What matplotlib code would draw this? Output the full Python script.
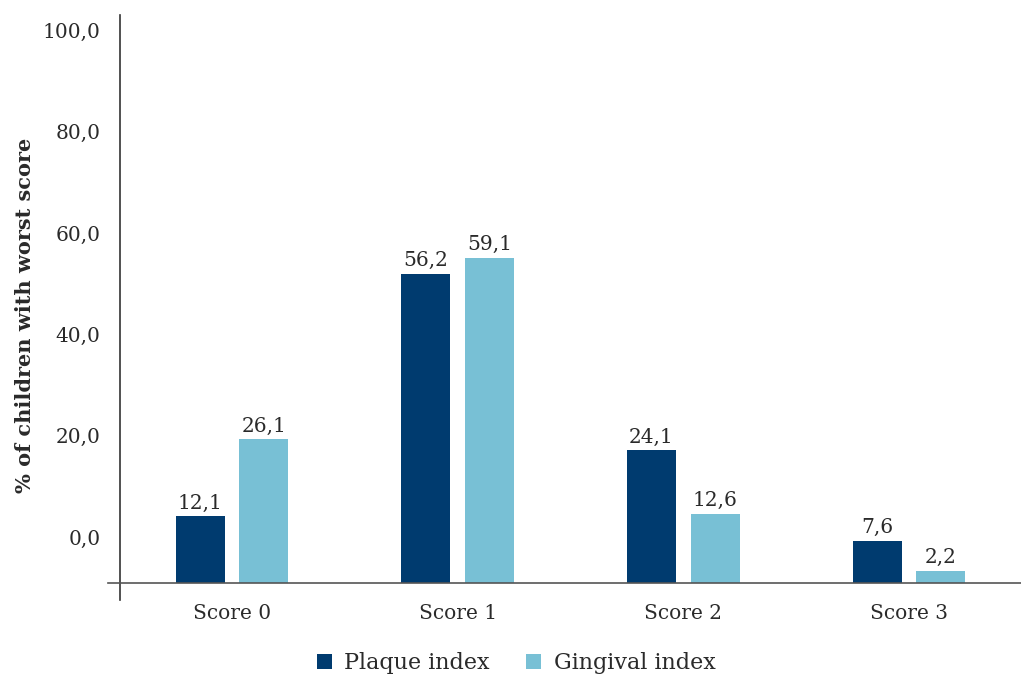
import numpy as np
import matplotlib.pyplot as plt

plt.rcParams['font.family'] = ['DejaVu Serif']

# Data
categories = ['Score 0', 'Score 1', 'Score 2', 'Score 3']
plaque = [12.1, 56.2, 24.1, 7.6]
gingival = [26.1, 59.1, 12.6, 2.2]
tick_values = [0, 20, 40, 60, 80, 100]

dark = '#003b6f'
light = '#78c0d5'
txt = '#2a2a2a'
fs = 14.5

fig = plt.figure(figsize=(10.21, 6.77), dpi=100)
ax = fig.add_axes([0.1175, 0.1137, 0.8834, 0.864])

x = np.arange(len(categories))
w = 0.217
off = 0.141

b1 = ax.bar(x - off, plaque, w, color=dark, label='Plaque index', zorder=2)
b2 = ax.bar(x + off, gingival, w, color=light, label='Gingival index', zorder=2)

for bars, vals in ((b1, plaque), (b2, gingival)):
    for bar, v in zip(bars, vals):
        ax.text(bar.get_x() + bar.get_width() / 2, v + 0.7,
                '{:.1f}'.format(v).replace('.', ','),
                ha='center', va='bottom', fontsize=fs, color=txt)

ax.set_xlim(-0.496, 3.5)
ax.set_ylim(-3.1, 103.3)

# y tick labels in the original sit on their own scale (offset from the bars)
tick_pos = [8.36 + v * 0.9216 for v in tick_values]
ax.set_yticks(tick_pos)
ax.set_yticklabels(['{:.1f}'.format(v).replace('.', ',') for v in tick_values],
                   fontsize=fs, color=txt)
ax.tick_params(axis='y', length=0, pad=14)

ax.set_xticks(x)
ax.set_xticklabels(categories, fontsize=fs, color=txt)
ax.tick_params(axis='x', length=0, pad=3)

for s in ['top', 'right', 'bottom']:
    ax.spines[s].set_visible(False)
ax.spines['left'].set_color('#333333')
ax.spines['left'].set_linewidth(1.2)

ax.axhline(0, xmin=-0.013, xmax=1, color='#555555', lw=1.2, clip_on=False, zorder=3)

fig.text(25 / 1021, 1 - 315 / 677, '% of children with worst score', rotation=90,
         ha='center', va='center', fontsize=15, fontweight='bold', color=txt)

fig.legend(handles=[b1, b2], loc='center', bbox_to_anchor=(516 / 1021, 1 - 663 / 677),
           ncol=2, frameon=False, fontsize=16, handlelength=0.68, handleheight=0.68,
           columnspacing=1.65, handletextpad=0.55, labelcolor=txt, borderpad=0)

fig.savefig('out.png', dpi=100)
